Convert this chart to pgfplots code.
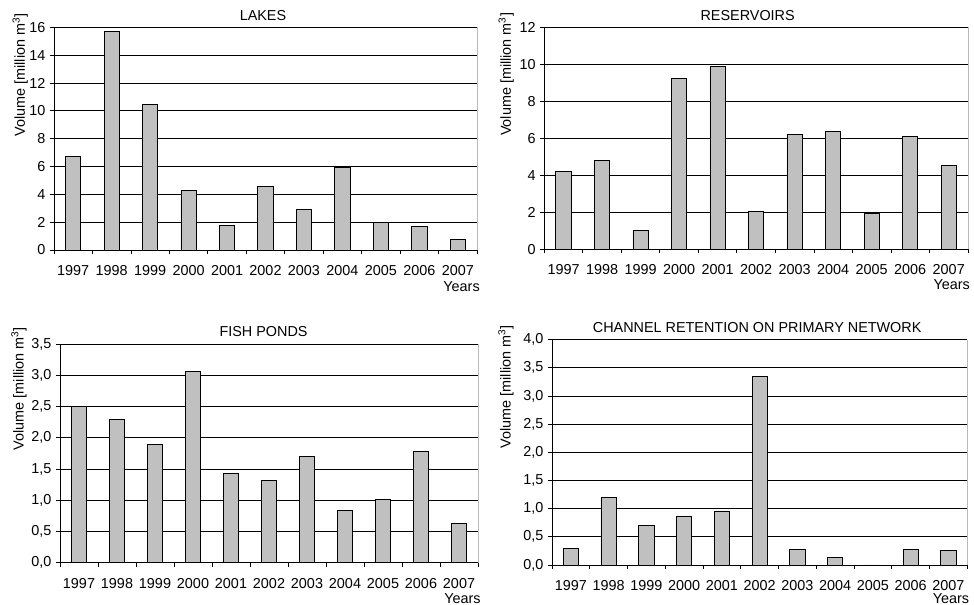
\documentclass[border=0pt]{standalone}
\usepackage{fontspec}
\setmainfont{Liberation Sans}
\usepackage{pgfplots}
\pgfplotsset{compat=1.18}
\definecolor{barfill}{HTML}{C0C0C0}
\newcommand\f{\fontsize{10.8}{13}\selectfont}
\pgfplotsset{
  panel/.style={
    scale only axis, anchor=south west,
    xmin=-0.5, xmax=10.5, ymin=0,
    xtick={0,...,10},
    xticklabels={1997,1998,1999,2000,2001,2002,2003,2004,2005,2006,2007},
    minor xtick={-0.5,0.5,...,10.5},
    major x tick style={draw=none},
    minor x tick style={black, line width=0.6pt},
    major y tick style={black, line width=0.6pt},
    tick align=outside,
    major tick length=3pt, minor tick length=3pt,
    ymajorgrids, grid style={black, line width=0.6pt},
    axis x line*=bottom, axis y line*=left,
    axis line style={-, black, line width=0.6pt},
    ybar, bar width=11.5pt,
    tick label style={font=\f},
    xticklabel style={yshift=-5pt},
    /pgf/number format/assume math mode=true,
    ylabel={Volume [million m\textsuperscript{3}]},
    xlabel={Years},
    ylabel style={anchor=east, inner sep=0pt, font=\f},
    xlabel style={anchor=east, inner sep=0pt, font=\f},
    every axis title shift=0pt,
    title style={anchor=center, inner sep=0pt, font=\f},
    extra description/.code={\draw[gray!55, line width=0.6pt] (rel axis cs:1,0) -- (rel axis cs:1,1);},
  },
  barstyle/.style={fill=barfill, draw=black, line width=0.6pt},
  dec/.style={yticklabel style={/pgf/number format/.cd, fixed, fixed zerofill, precision=1, use comma}},
}
\begin{document}
\begin{tikzpicture}
\useasboundingbox (0,0) rectangle (730.5pt,453.75pt);
% LAKES
\begin{axis}[panel, at={(40.5pt,266.25pt)}, width=317.25pt, height=167pt,
  ymax=16, ytick={0,2,4,6,8,10,12,14,16},
  title={LAKES},
  title style={at={(axis description cs:0.494,1.055)}},
  ylabel style={at={(axis description cs:-0.080,1.064)}},
  xlabel style={at={(axis description cs:1.007,-0.165)}}]
\addplot[barstyle] coordinates {(0,6.7) (1,15.68) (2,10.49) (3,4.26) (4,1.75) (5,4.55) (6,2.9) (7,5.96) (8,1.96) (9,1.7) (10,0.77)};
\end{axis}
% RESERVOIRS
\begin{axis}[panel, at={(408.2pt,266.8pt)}, width=317.8pt, height=166.5pt,
  ymax=12, ytick={0,2,4,6,8,10,12},
  title={RESERVOIRS},
  title style={at={(axis description cs:0.480,1.055)}},
  ylabel style={at={(axis description cs:-0.090,1.066)}},
  xlabel style={at={(axis description cs:1.005,-0.161)}}]
\addplot[barstyle] coordinates {(0,4.19) (1,4.81) (2,1.03) (3,9.24) (4,9.87) (5,2.05) (6,6.19) (7,6.36) (8,1.95) (9,6.09) (10,4.54)};
\end{axis}
% FISH PONDS
\begin{axis}[panel, dec, at={(45pt,31.7pt)}, width=313.5pt, height=164pt,
  ymax=3.5, ytick={0,0.5,1,1.5,2,2.5,3,3.5},
  title={FISH PONDS},
  title style={at={(axis description cs:0.487,1.056)}},
  ylabel style={at={(axis description cs:-0.098,1.079)}},
  xlabel style={at={(axis description cs:1.007,-0.163)}}]
\addplot[barstyle] coordinates {(0,2.50) (1,2.30) (2,1.90) (3,3.06) (4,1.43) (5,1.31) (6,1.70) (7,0.84) (8,1.02) (9,1.78) (10,0.63)};
\end{axis}
% CHANNEL RETENTION
\begin{axis}[panel, dec, at={(414pt,30pt)}, width=311.5pt, height=169pt,
  ymax=4, ytick={0,0.5,1,1.5,2,2.5,3,3.5,4},
  title={CHANNEL RETENTION ON PRIMARY NETWORK},
  title style={at={(axis description cs:0.494,1.055)}},
  ylabel style={at={(axis description cs:-0.111,1.065)}},
  xlabel style={at={(axis description cs:1.005,-0.151)}}]
\addplot[barstyle] coordinates {(0,0.30) (1,1.20) (2,0.70) (3,0.87) (4,0.96) (5,3.35) (6,0.28) (7,0.14) (8,0) (9,0.27) (10,0.26)};
\end{axis}
\end{tikzpicture}
\end{document}
